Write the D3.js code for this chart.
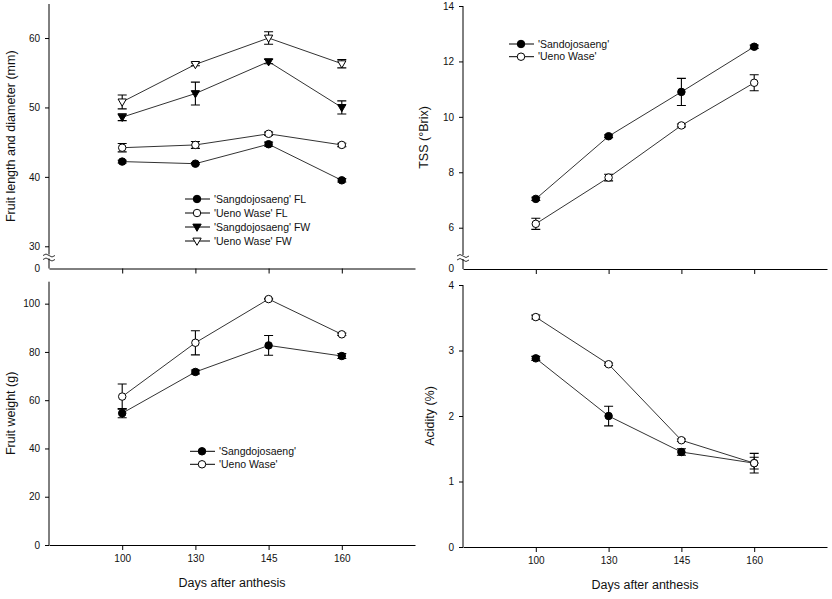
<!DOCTYPE html>
<html><head><meta charset="utf-8">
<script src="https://cdn.jsdelivr.net/npm/d3@7"></script>
<style>
body{margin:0;background:#fff;}
text{font-family:Arial,"Liberation Sans",sans-serif;fill:#111;}
</style></head>
<body><svg id="c" width="832" height="599"></svg>
<script>
const days = ["100", "130", "145", "160"];
// Panel A: fruit length (FL) and width (FW), mm
const sangFL = [42.2, 41.9, 44.7, 39.5];
const sangFLErr = [0.2, 0.15, 0.3, 0.25];
const uenoFL = [44.2, 44.6, 46.2, 44.6];
const uenoFLErr = [0.6, 0.5, 0.25, 0.25];
const sangFW = [48.6, 52.0, 56.6, 50.0];
const sangFWErr = [0.5, 1.65, 0.3, 0.95];
const uenoFW = [50.8, 56.2, 60.0, 56.3];
const uenoFWErr = [1.0, 0.2, 0.9, 0.6];
// Panel B: TSS (°Brix)
const sangTSS = [7.04, 9.3, 10.9, 12.53];
const sangTSSErr = [0.06, 0.05, 0.49, 0.06];
const uenoTSS = [6.14, 7.81, 9.69, 11.23];
const uenoTSSErr = [0.2, 0.12, 0.05, 0.29];
// Panel C: fruit weight (g)
const sangWt = [54.6, 71.7, 82.7, 78.3];
const sangWtErr = [1.9, 0.8, 4.1, 1.0];
const uenoWt = [61.5, 83.8, 101.9, 87.3];
const uenoWtErr = [5.2, 5.0, 0.3, 0.5];
// Panel D: acidity (%)
const sangAc = [2.88, 2.0, 1.45, 1.28];
const sangAcErr = [0.03, 0.15, 0.05, 0.15];
const uenoAc = [3.51, 2.79, 1.63, 1.28];
const uenoAcErr = [0.03, 0.02, 0.02, 0.09];

const ticksA = [30, 40, 50, 60];
const ticksB = [6, 8, 10, 12, 14];
const ticksC = [0, 20, 40, 60, 80, 100];
const ticksD = [0, 1, 2, 3, 4];

const svg = d3.select("#c");

function panel(cfg) {
  const g = svg.append("g");
  const x = d3.scaleLinear().domain([0, 5]).range([cfg.x0, cfg.x1]);
  const y = d3.scaleLinear().domain(cfg.yDomain).range([cfg.yB, cfg.yT]);
  // x axis
  const xa = d3.axisBottom(x).tickValues([1, 2, 3, 4]).tickSize(5).tickPadding(5).tickSizeOuter(0)
    .tickFormat(cfg.xLabels ? (d => days[d - 1]) : (() => ""));
  const gx = g.append("g").attr("transform", `translate(0,${cfg.yB})`).call(xa);
  gx.selectAll("text").style("font-size", "10px");
  // y axis
  const ya = d3.axisLeft(y).tickValues(cfg.ticks).tickSize(4).tickPadding(5).tickSizeOuter(0)
    .tickFormat(d3.format("d"));
  const gy = g.append("g").attr("transform", `translate(${cfg.x0},0)`).call(ya);
  gy.select(".domain").attr("d", `M0,${cfg.yB}V${cfg.yT}`);
  gy.selectAll("text").style("font-size", "10px");
  g.selectAll(".domain, .tick line").attr("stroke", "#000");
  if (cfg.brk) {
    // zero label and axis break
    g.append("text").attr("x", cfg.x0 - 9).attr("y", cfg.yB).attr("dy", "0.32em")
      .attr("text-anchor", "end").style("font-size", "10px").text("0");
    const by = cfg.yB - 12;
    g.append("rect").attr("x", cfg.x0 - 1.5).attr("y", by - 2).attr("width", 3).attr("height", 4).attr("fill", "#fff");
    [-2, 2].forEach(o => {
      g.append("path").attr("d", `M${cfg.x0 - 6},${by + o + 1} q3,-3 6,0 t6,0`)
        .attr("fill", "none").attr("stroke", "#000").attr("stroke-width", 0.8);
    });
  }
  // axis labels
  g.append("text").attr("transform", `translate(${cfg.yLabX},${(cfg.yT + cfg.yB) / 2}) rotate(-90)`)
    .attr("text-anchor", "middle").attr("dy", "0.35em").style("font-size", "12.5px").text(cfg.yLabel);
  if (cfg.xLabels) {
    g.append("text").attr("x", (cfg.x0 + cfg.x1) / 2).attr("y", cfg.yB + 42)
      .attr("text-anchor", "middle").style("font-size", "12.5px").text("Days after anthesis");
  }
  const line = d3.line().x((d, i) => x(i + 1)).y(d => y(d));
  cfg.series.forEach(s => {
    g.append("path").attr("d", line(s.v)).attr("fill", "none").attr("stroke", "#333").attr("stroke-width", 1);
  });
  cfg.series.forEach(s => {
    s.v.forEach((v, i) => {
      const e = s.e[i], cx = x(i + 1);
      g.append("path").attr("d", `M${cx},${y(v - e)}V${y(v + e)}M${cx - 4.5},${y(v - e)}h9M${cx - 4.5},${y(v + e)}h9`)
        .attr("stroke", "#000").attr("stroke-width", 1.1).attr("fill", "none");
    });
  });
  cfg.series.forEach(s => {
    s.v.forEach((v, i) => drawMarker(g, s.m, x(i + 1), y(v)));
  });
  // legend
  if (cfg.legend) {
    const L = cfg.legend;
    L.items.forEach((it, k) => {
      const yy = L.y + k * L.dy;
      g.append("line").attr("x1", L.x).attr("x2", L.x + 25).attr("y1", yy).attr("y2", yy).attr("stroke", "#000");
      drawMarker(g, it.m, L.x + 12, yy);
      g.append("text").attr("x", L.x + 29).attr("y", yy).attr("dy", "0.35em").style("font-size", "10.5px").text(it.t);
    });
  }
}

function drawMarker(g, m, cx, cy) {
  const filled = m === "fc" || m === "ft";
  const tri = m === "ft" || m === "ot";
  const sym = d3.symbol().type(tri ? d3.symbolTriangle : d3.symbolCircle).size(tri ? 30 : 44);
  g.append("path").attr("d", sym())
    .attr("transform", `translate(${cx},${cy + (tri ? -0.5 : 0)})${tri ? " rotate(180)" : ""}`)
    .attr("fill", filled ? "#000" : "#fff").attr("stroke", "#000").attr("stroke-width", 1);
}

panel({
  x0: 49, x1: 415, yT: 4, yB: 268.5, yDomain: [26.8, 64.9], ticks: ticksA, brk: true, xLabels: false,
  yLabel: "Fruit length and diameter (mm)", yLabX: 11,
  series: [
    {v: sangFL, e: sangFLErr, m: "fc"},
    {v: uenoFL, e: uenoFLErr, m: "oc"},
    {v: sangFW, e: sangFWErr, m: "ft"},
    {v: uenoFW, e: uenoFWErr, m: "ot"}
  ],
  legend: {x: 185, y: 199, dy: 14, items: [
    {m: "fc", t: "'Sangdojosaeng' FL"},
    {m: "oc", t: "'Ueno Wase' FL"},
    {m: "ft", t: "'Sangdojosaeng' FW"},
    {m: "ot", t: "'Ueno Wase' FW"}
  ]}
});

panel({
  x0: 463, x1: 827, yT: 6, yB: 269, yDomain: [4.51, 14], ticks: ticksB, brk: true, xLabels: false,
  yLabel: "TSS (°Brix)", yLabX: 424,
  series: [
    {v: sangTSS, e: sangTSSErr, m: "fc"},
    {v: uenoTSS, e: uenoTSSErr, m: "oc"}
  ],
  legend: {x: 509, y: 44, dy: 12.7, items: [
    {m: "fc", t: "'Sandojosaeng'"},
    {m: "oc", t: "'Ueno Wase'"}
  ]}
});

panel({
  x0: 49, x1: 415, yT: 281.7, yB: 545, yDomain: [0, 109.1], ticks: ticksC, brk: false, xLabels: true,
  yLabel: "Fruit weight (g)", yLabX: 11,
  series: [
    {v: sangWt, e: sangWtErr, m: "fc"},
    {v: uenoWt, e: uenoWtErr, m: "oc"}
  ],
  legend: {x: 190, y: 451.3, dy: 13, items: [
    {m: "fc", t: "'Sangdojosaeng'"},
    {m: "oc", t: "'Ueno Wase'"}
  ]}
});

panel({
  x0: 463, x1: 827, yT: 285, yB: 547, yDomain: [0, 4], ticks: ticksD, brk: false, xLabels: true,
  yLabel: "Acidity (%)", yLabX: 430,
  series: [
    {v: sangAc, e: sangAcErr, m: "fc"},
    {v: uenoAc, e: uenoAcErr, m: "oc"}
  ]
});
</script></body></html>
